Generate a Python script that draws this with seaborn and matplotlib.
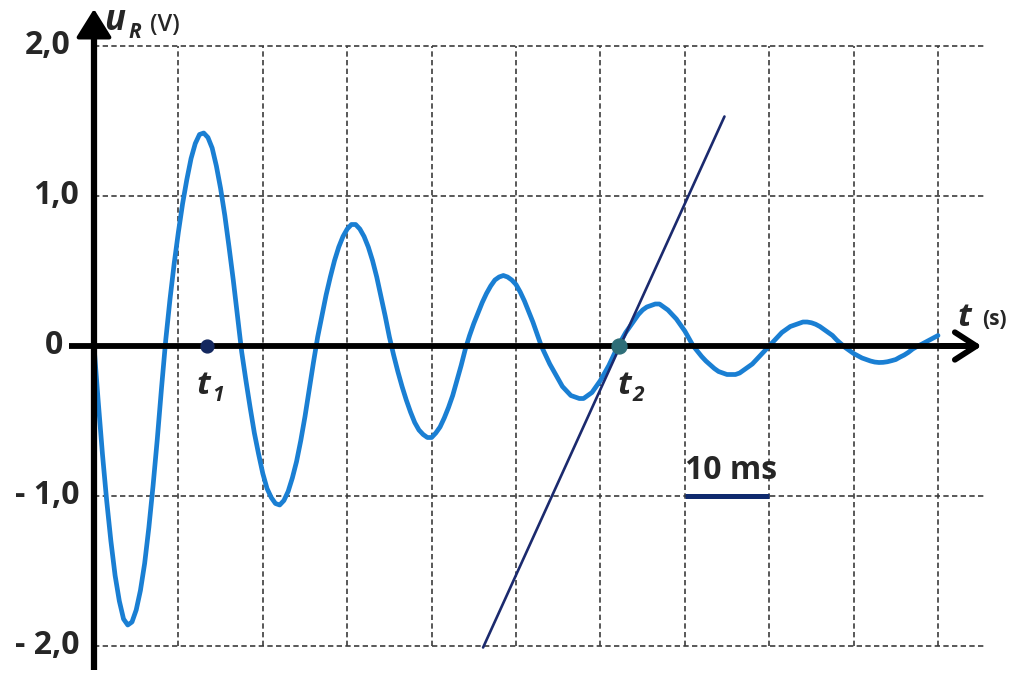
import matplotlib
matplotlib.use("Agg")
import matplotlib.pyplot as plt
import seaborn as sns

# damped oscillation u_R(t) (t in ms, u in V)
t_ms = [0, 0.5, 1, 1.5, 2, 2.5, 3, 3.5, 4, 4.5, 5, 5.5, 6, 6.5, 7, 7.5, 8, 8.5,
        9, 9.5, 10, 10.5, 11, 11.5, 12, 12.5, 13, 13.5, 14, 14.5, 15, 15.5,
        16, 16.5, 17, 17.5, 18, 18.5, 19, 19.5, 20, 20.5, 21, 21.5, 22, 22.5,
        23, 23.5, 24, 24.5, 25, 25.5, 26, 26.5, 27, 27.5, 28, 28.5, 29, 29.5,
        30, 30.5, 31, 31.5, 32, 32.5, 33, 33.5, 34, 34.5, 35, 35.5, 36, 36.5,
        37, 37.5, 38, 38.5, 39, 39.5, 40, 40.5, 41, 41.5, 42, 42.5, 43, 43.5,
        44, 44.5, 45, 45.5, 46, 46.5, 47, 47.5, 48, 48.5, 49, 49.5, 50, 50.5,
        51, 51.5, 52, 52.5, 53, 53.5, 54, 54.5, 55, 55.5, 56, 56.5, 57, 57.5,
        58, 58.5, 59, 59.5, 60, 60.5, 61, 61.5, 62, 62.5, 63, 63.5, 64, 64.5,
        65, 65.5, 66, 66.5, 67, 67.5, 68, 68.5, 69, 69.5, 70, 70.5, 71, 71.5,
        72, 72.5, 73, 73.5, 74, 74.5, 75, 75.5, 76, 76.5, 77, 77.5, 78, 78.5,
        79, 79.5, 80, 80.5, 81, 81.5, 82, 82.5, 83, 83.5, 84, 84.5, 85, 85.5,
        86, 86.5, 87, 87.5, 88, 88.5, 89, 89.5, 90, 90.5, 91, 91.5, 92, 92.5,
        93, 93.5, 94, 94.5, 95, 95.5, 96, 96.5, 97, 97.5, 98, 98.5, 99, 99.5,
        100]
u_R = [0, -0.37, -0.72, -1.03, -1.30, -1.53, -1.70, -1.82, -1.86, -1.84, -1.76,
       -1.63, -1.45, -1.21, -0.93, -0.62, -0.28, 0.04,
       0.31, 0.55, 0.76, 0.95, 1.11, 1.25, 1.35, 1.41, 1.42, 1.39, 1.32, 1.20,
       1.05, 0.87, 0.66, 0.44, 0.20, -0.04, -0.23, -0.41, -0.58, -0.72, -0.85,
       -0.95, -1.01, -1.05, -1.06, -1.03, -0.97, -0.88, -0.77, -0.63, -0.47,
       -0.29, -0.11, 0.06, 0.20, 0.34, 0.46, 0.57, 0.66, 0.73, 0.78, 0.81,
       0.81, 0.78, 0.73, 0.66, 0.57, 0.46, 0.33, 0.20, 0.06, -0.06, -0.17,
       -0.27, -0.36, -0.44, -0.51, -0.56, -0.59, -0.61, -0.61, -0.58, -0.54,
       -0.48, -0.41, -0.33, -0.23, -0.13, -0.02, 0.07, 0.15, 0.22, 0.29, 0.35,
       0.40, 0.44, 0.46, 0.47, 0.46, 0.44, 0.41, 0.36, 0.30, 0.23, 0.16, 0.08,
       0.0, -0.06, -0.12, -0.17, -0.22, -0.27, -0.30, -0.33, -0.34, -0.35,
       -0.35, -0.33, -0.31, -0.27, -0.23, -0.18, -0.13, -0.07, -0.01, 0.04,
       0.09, 0.13, 0.17, 0.21, 0.24, 0.26, 0.27, 0.28, 0.28, 0.26, 0.24, 0.21,
       0.18, 0.14, 0.10, 0.05, 0.0, -0.035, -0.07, -0.10, -0.125, -0.15, -0.17,
       -0.18, -0.19, -0.19, -0.19, -0.18, -0.16, -0.14, -0.12, -0.09, -0.06,
       -0.03, 0.0, 0.03, 0.06, 0.09, 0.11, 0.13, 0.14, 0.15, 0.16, 0.16,
       0.155, 0.145, 0.13, 0.11, 0.09, 0.07, 0.04, 0.015, -0.01, -0.03, -0.05,
       -0.065, -0.08, -0.09, -0.10, -0.107, -0.11, -0.109, -0.105, -0.098,
       -0.09, -0.074, -0.06, -0.042, -0.02, -0.004, 0.01, 0.025, 0.04, 0.055,
       0.07]

# tangent at t2
tangent_t = [46.1, 74.7]
tangent_u = [-2.01, 1.53]

# marked instants
t1 = 13.4
t2 = 62.2

# 10 ms scale bar
scale_t = [70, 80]
scale_u = [-1.0, -1.0]

y_ticks = [2.0, 1.0, 0.0, -1.0, -2.0]
y_labels = ["2,0", "1,0", "0", "- 1,0", "- 2,0"]
grid_t = [10, 20, 30, 40, 50, 60, 70, 80, 90, 100]

sns.set_style("white")
plt.rcParams['font.family'] = ['Open Sans', 'DejaVu Sans']

fig = plt.figure(figsize=(10.17, 6.73), dpi=100)
ax = fig.add_axes([0, 0, 1, 1])
ax.set_xlim(-94 / 8.44, (1017 - 94) / 8.44)
ax.set_ylim(-(673 - 346) / 150, 346 / 150)
ax.axis("off")

grid_kw = dict(color="#3c3c3c", lw=1.2, ls=(0, (3.2, 2)), zorder=1)
for v in [2.0, 1.0, -1.0, -2.0]:
    ax.plot([0, 105.6], [v, v], **grid_kw)
for g in grid_t:
    ax.plot([g, g], [-2.0, 2.0], **grid_kw)

# curve
sns.lineplot(x=t_ms, y=u_R, ax=ax, color="#1a7fd3", lw=3.4, zorder=2,
             solid_joinstyle="round", sort=False)

# axes with arrows
ax.plot([-3.0, 104.0], [0, 0], color="black", lw=4.2, zorder=3, solid_capstyle="butt")
ax.plot([0, 0], [-2.16, 2.15], color="black", lw=4.5, zorder=3, solid_capstyle="butt")
ax.annotate("", xy=(105.5, 0), xytext=(100, 0),
            arrowprops=dict(arrowstyle="->,head_length=0.7,head_width=0.45",
                            lw=4.2, color="black", mutation_scale=22), zorder=4)
ax.annotate("", xy=(0, 2.265), xytext=(0, 2.0),
            arrowprops=dict(arrowstyle="-|>,head_length=0.8,head_width=0.5",
                            lw=3.0, color="black", mutation_scale=22), zorder=4)

# tangent and markers
ax.plot(tangent_t, tangent_u, color="#1b2a6e", lw=1.9, zorder=4)
ax.scatter([t1], [0], s=85, color="#14285f", zorder=5)
ax.scatter([t2], [0], s=115, color="#2e6e78", zorder=5)
ax.plot(scale_t, scale_u, color="#0f2a6e", lw=3.6, zorder=4, solid_capstyle="butt")

# tick labels
for v, lab in zip(y_ticks, y_labels):
    if lab == "2,0":
        xr = -2.75
    elif lab == "0":
        xr = -3.6
    else:
        xr = -1.75
    ax.text(xr, v, lab, ha="right", va="center", fontsize=23, fontweight="bold")

# axis titles
ax.text(1.2, 2.105, "u", fontsize=25, fontweight="bold", style="italic",
        ha="left", va="baseline")
ax.text(4.1, 2.05, "R", fontsize=15, fontweight="bold", style="italic",
        ha="left", va="baseline")
ax.text(6.6, 2.1, "(V)", fontsize=17, fontweight="semibold", ha="left", va="baseline")
ax.text(102.3, 0.13, "t", fontsize=24, fontweight="bold", style="italic",
        ha="left", va="baseline")
ax.text(105.2, 0.14, "(s)", fontsize=15, fontweight="bold", ha="left", va="baseline")

# instant labels
ax.text(t1 - 1.2, -0.32, "t", fontsize=24, fontweight="bold", style="italic",
        ha="left", va="baseline")
ax.text(t1 + 0.6, -0.37, "1", fontsize=15, fontweight="bold", style="italic",
        ha="left", va="baseline")
ax.text(t2 - 0.2, -0.32, "t", fontsize=24, fontweight="bold", style="italic",
        ha="left", va="baseline")
ax.text(t2 + 1.6, -0.37, "2", fontsize=15, fontweight="bold", style="italic",
        ha="left", va="baseline")

ax.text(75.5, -0.89, "10 ms", fontsize=23, fontweight="bold",
        ha="center", va="baseline")

fig.savefig("out.png", dpi=100)
plt.close(fig)
